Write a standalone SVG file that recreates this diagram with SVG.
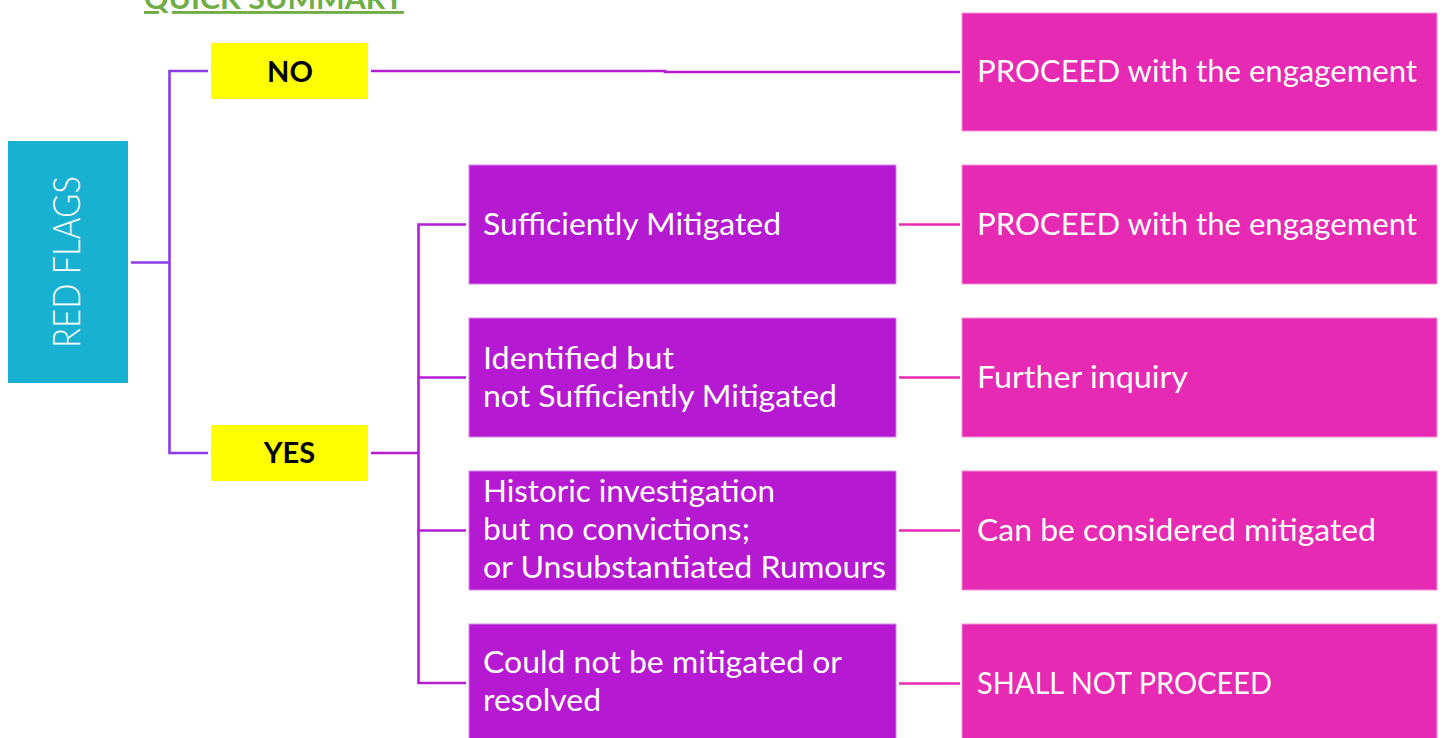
<svg xmlns="http://www.w3.org/2000/svg" width="1445" height="738" viewBox="0 0 1445 738">
<style>
.cv{stroke:#8B3BEB;stroke-width:2.6;fill:none}
.cp{stroke:#B51CD3;stroke-width:2.6;fill:none}
.ck{stroke:#E72BB4;stroke-width:2.6;fill:none}
.bp{fill:#B519D2;stroke:#D585E6;stroke-width:1}
.bk{fill:#E62AB4;stroke:#F290D8;stroke-width:1}
.by{fill:#FFFF00}
.t{font-family:Lato,"Liberation Sans",sans-serif;font-size:31px;fill:#FFFFFF}
.b{font-family:Lato,"Liberation Sans",sans-serif;font-size:29px;font-weight:bold;fill:#000000}
</style>
<rect width="1445" height="738" fill="#FFFFFF"/>
<text id="title" x="144" y="9" font-family="Lato,'Liberation Sans',sans-serif" font-size="29" font-weight="bold" fill="#70AD47" text-decoration="underline" textLength="260" lengthAdjust="spacingAndGlyphs">QUICK SUMMARY</text>
<g id="connectors">
<path class="cv" d="M131 262.5 H169.5 M208 71 H169.5 V453 H208"/>
<path class="cp" d="M371 71 H665 V72 H960"/>
<path class="cp" d="M371 453 H418.5 M466 224.5 H418.5 V683 H466 M418.5 377.5 H466 M418.5 530.5 H466"/>
<path class="ck" d="M899 224.5 H960 M899 377.5 H960 M899 530.5 H960 M899 683.5 H960"/>
</g>
<g id="red-flags">
<rect x="8" y="141" width="120" height="242" fill="#18B1D2"/>
<text transform="translate(80,262) rotate(-90)" text-anchor="middle" font-family="Lato,'Liberation Sans',sans-serif" font-size="37" font-weight="300" fill="#FFFFFF" textLength="172" lengthAdjust="spacingAndGlyphs">RED FLAGS</text>
</g>
<g id="no">
<rect class="by" x="211" y="43" width="157" height="56"/>
<text class="b" x="290" y="81.5" text-anchor="middle">NO</text>
</g>
<g id="yes">
<rect class="by" x="211" y="425" width="157" height="56"/>
<text class="b" x="289.5" y="463" text-anchor="middle">YES</text>
</g>
<g id="m1">
<rect class="bp" x="469" y="165" width="427" height="119"/>
<text class="t" x="483" y="235" textLength="298" lengthAdjust="spacingAndGlyphs">Sufficiently Mitigated</text>
</g>
<g id="m2">
<rect class="bp" x="469" y="318" width="427" height="119"/>
<text class="t" x="483" y="369" textLength="191" lengthAdjust="spacingAndGlyphs">Identified but</text>
<text class="t" x="483" y="406.5" textLength="354" lengthAdjust="spacingAndGlyphs">not Sufficiently Mitigated</text>
</g>
<g id="m3">
<rect class="bp" x="469" y="471" width="427" height="119"/>
<text class="t" x="483" y="502" textLength="292" lengthAdjust="spacingAndGlyphs">Historic investigation</text>
<text class="t" x="483" y="540" textLength="267" lengthAdjust="spacingAndGlyphs">but no convictions;</text>
<text class="t" x="483" y="578" textLength="403" lengthAdjust="spacingAndGlyphs">or Unsubstantiated Rumours</text>
</g>
<g id="m4">
<rect class="bp" x="469" y="624" width="427" height="120"/>
<text class="t" x="483" y="673" textLength="359" lengthAdjust="spacingAndGlyphs">Could not be mitigated or</text>
<text class="t" x="483" y="711" textLength="118" lengthAdjust="spacingAndGlyphs">resolved</text>
</g>
<g id="r0">
<rect class="bk" x="962" y="13" width="475" height="118"/>
<text class="t" x="977" y="82" textLength="440" lengthAdjust="spacingAndGlyphs">PROCEED with the engagement</text>
</g>
<g id="r1">
<rect class="bk" x="962" y="165" width="475" height="119"/>
<text class="t" x="977" y="235" textLength="440" lengthAdjust="spacingAndGlyphs">PROCEED with the engagement</text>
</g>
<g id="r2">
<rect class="bk" x="962" y="318" width="475" height="119"/>
<text class="t" x="977" y="388" textLength="211" lengthAdjust="spacingAndGlyphs">Further inquiry</text>
</g>
<g id="r3">
<rect class="bk" x="962" y="471" width="475" height="119"/>
<text class="t" x="977" y="541" textLength="399" lengthAdjust="spacingAndGlyphs">Can be considered mitigated</text>
</g>
<g id="r4">
<rect class="bk" x="962" y="624" width="475" height="120"/>
<text class="t" x="977" y="694" textLength="295" lengthAdjust="spacingAndGlyphs">SHALL NOT PROCEED</text>
</g>
</svg>
